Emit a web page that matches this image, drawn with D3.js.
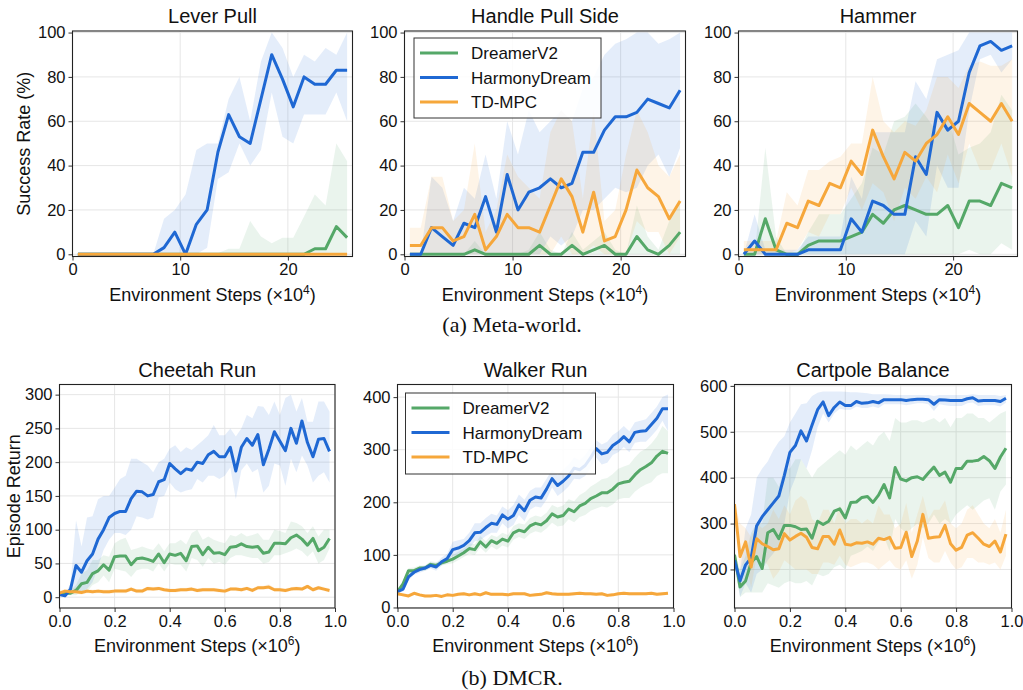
<!DOCTYPE html>
<html>
<head>
<meta charset="utf-8">
<script src="https://cdn.jsdelivr.net/npm/d3@7"></script>
<style>
  body { margin: 0; background: #fff; }
  svg text { fill: #111; }
</style>
</head>
<body>
<svg id="fig" width="1023" height="690" font-family="Liberation Sans, Arial, sans-serif"></svg>
<script>
// ---- data ----
// Meta-world: steps in units of 1e4
const metaSteps = [0.5,1.5,2.5,3.5,4.5,5.5,6.5,7.5,8.5,9.5,10.5,11.5,12.5,13.5,14.5,15.5,16.5,17.5,18.5,19.5,20.5,21.5,22.5,23.5,24.5,25.5];

const leverDreamer   = [0,0,0,0,0,0,0,0,0,0,0,0,0,0,0,0,0,0,0,0,0,0,2.5,2.5,12.5,7.5];
const leverDreamerHi = [0,0,0,0,0,0,0,0,0,0,0,0,0,0.5,2.5,2.5,15,8,5,7.5,7.5,17,27,22,50,42];
const leverDreamerLo = [0,0,0,0,0,0,0,0,0,0,0,0,0,0,0,0,0,0,0,0,0,0,0,0,0,0];
const leverHarmony   = [0,0,0,0,0,0,0,0,3,10,0,13.5,20,46,63,53,50,70,90,79,66.5,80,76.7,76.7,83,83];
const leverHarmonyHi = [0,0,0,0,0,0,0,0,16,20,27,47,50,50,70,80,60,87,100,93,80,90,87,93,90,100];
const leverHarmonyLo = [0,0,0,0,0,0,0,0,0,0,0,0,3,34,37,50,40,47,73,53,50,63,63,63,73,60];
const leverTdmpc     = [0,0,0,0,0,0,0,0,0,0,0,0,0,0,0,0,0,0,0,0,0,0,0,0,0,0];
const leverTdmpcHi   = [0,0,0,0,0,0,0,0,0,0,0,0,0,0,0,0,0,0,0,0,0,0,0,0,0,0];
const leverTdmpcLo   = [0,0,0,0,0,0,0,0,0,0,0,0,0,0,0,0,0,0,0,0,0,0,0,0,0,0];

const handleDreamer   = [0,0,0,0,0,0,2,0,0,0,0,0,4,0,0,4,0,2,4,0,0,8,2,0,4,10];
const handleDreamerHi = [0,0,0,0,0,0,6,0,0,0,0,2,10,2,0,10,2,6,10,2,0,22,8,2,15,25];
const handleDreamerLo = [0,0,0,0,0,0,0,0,0,0,0,0,0,0,0,0,0,0,0,0,0,0,0,0,0,0];
const handleHarmony   = [0,0,12,8,4,14,12,26,10,36,20,28,30,34,30,32,46,46,56,62,62,64,70,68,66,74];
const handleHarmonyHi = [0,0,35,30,15,30,25,45,25,60,45,65,55,60,65,60,75,80,90,95,97,100,100,95,97,100];
const handleHarmonyLo = [0,0,0,0,0,0,0,0,0,0,0,0,0,8,4,8,20,20,25,30,28,30,40,45,35,48];
const handleTdmpc     = [4,4,12,12,6,8,18,2,8,18,12,12,10,22,34,26,10,28,6,8,20,38,30,26,16,24];
const handleTdmpcHi   = [12,12,35,35,15,20,50,10,20,45,35,30,25,55,65,60,25,65,15,20,45,65,55,40,35,45];
const handleTdmpcLo   = [0,0,0,0,0,0,0,0,0,0,0,0,0,0,8,0,0,4,0,0,0,15,10,10,0,8];

const hammerDreamer   = [0,0,16,2,0,0,4,6,6,6,8,10,18,14,20,22,20,18,18,22,12,24,24,22,32,30];
const hammerDreamerHi = [0,0,48,8,0,0,10,18,18,18,25,32,48,45,60,62,68,62,55,62,45,48,50,55,72,65];
const hammerDreamerLo = [0,0,0,0,0,0,0,0,0,0,0,0,0,0,0,0,0,0,0,0,0,2,0,0,5,2];
const hammerHarmony   = [0,6,0,0,0,0,2,2,2,2,16,10,24,22,18,18,44,36,64,56,60,82,94,96,92,94];
const hammerHarmonyHi = [0,18,2,2,2,2,8,8,8,8,35,25,55,55,55,55,78,70,88,90,92,100,100,100,100,100];
const hammerHarmonyLo = [0,0,0,0,0,0,0,0,0,0,0,0,0,0,0,0,15,8,40,30,30,65,88,90,82,88];
const hammerTdmpc     = [2,2,2,2,14,12,24,22,32,30,42,36,56,44,34,46,42,50,54,62,54,68,64,60,68,60];
const hammerTdmpcHi   = [6,6,6,6,28,22,38,38,42,44,50,50,80,60,55,60,58,65,80,80,75,85,87,85,85,88];
const hammerTdmpcLo   = [0,0,0,0,0,2,10,8,18,18,30,20,32,28,15,30,25,35,28,45,32,50,38,38,50,35];

// DMCR: steps in units of 1e6
const dmcSteps = [0,0.02,0.04,0.06,0.08,0.1,0.12,0.14,0.16,0.18,0.2,0.22,0.24,0.26,0.28,0.3,0.32,0.34,0.36,0.38,
  0.4,0.42,0.44,0.46,0.48,0.5,0.52,0.54,0.56,0.58,0.6,0.62,0.64,0.66,0.68,0.7,0.72,0.74,0.76,0.78,
  0.8,0.82,0.84,0.86,0.88,0.9,0.92,0.94,0.96,0.98];

const cheetahDreamer   = [4,6,6,10,20,22,35,39,48,40,60,61,61,48,57,58,56,53,64,51,64,62,65,54,75,76,63,74,65,66,63,74,75,79,75,74,75,65,67,80,80,79,88,92,86,77,87,69,74,87];
const cheetahDreamerHi = [6,8,10,18,35,40,55,55,62,60,80,85,88,70,72,75,72,70,80,68,80,80,85,78,95,100,85,90,85,82,80,92,90,95,90,92,95,85,85,100,98,95,112,110,105,95,105,90,100,100];
const cheetahDreamerLo = [2,4,3,3,8,8,18,22,32,22,42,40,38,30,40,42,42,38,50,38,50,48,48,38,58,55,45,58,50,52,48,58,62,62,60,58,58,50,52,62,62,65,68,72,68,60,68,50,55,72];
const cheetahHarmony   = [4,2,12,47,37,54,64,86,100,118,124,127,127,146,157,156,150,152,171,174,198,190,183,190,188,200,198,211,216,208,208,222,187,222,235,225,241,196,219,245,231,217,250,228,261,229,208,234,235,216];
const cheetahHarmonyHi = [5,5,20,114,75,118,120,145,150,150,162,175,180,205,205,200,195,185,200,205,220,225,215,222,218,225,232,240,255,240,240,250,238,250,270,265,283,282,270,290,270,295,300,275,295,260,260,290,290,275];
const cheetahHarmonyLo = [2,0,5,8,8,12,22,45,70,85,95,95,92,100,120,118,115,118,148,150,170,160,155,158,160,175,170,180,180,175,180,192,145,188,198,185,190,155,165,198,195,165,205,185,210,195,170,180,185,170];
const cheetahTdmpc     = [6,9,8,8,7,9,8,9,8,8,9,9,9,12,9,9,13,12,13,11,10,10,11,11,12,10,11,11,11,10,9,12,12,11,13,10,14,14,15,11,11,10,12,13,12,16,11,14,12,10];
const cheetahTdmpcHi   = [9,12,12,14,10,12,11,12,11,11,12,12,12,15,12,12,16,15,16,14,13,13,14,14,15,13,14,14,14,13,12,15,15,14,16,13,17,17,19,14,14,13,15,16,15,19,14,17,15,13];
const cheetahTdmpcLo   = [3,6,5,5,4,6,5,6,5,5,6,6,6,9,6,6,10,9,10,8,7,7,8,8,9,7,8,8,8,7,6,9,9,8,10,7,11,11,12,8,8,7,9,10,9,13,8,11,9,7];

const walkerDreamer   = [30,45,70,70,75,75,82,80,85,88,92,98,104,112,110,125,115,127,122,130,126,142,147,144,155,160,157,165,178,172,175,187,182,193,198,207,212,218,218,225,235,238,240,252,262,268,275,288,297,293];
const walkerDreamerHi = [32,50,75,76,80,80,88,86,90,94,100,106,112,122,120,136,126,138,134,142,138,155,160,158,170,175,172,180,195,190,194,206,202,214,220,230,236,244,246,254,264,268,272,285,296,302,312,325,345,335];
const walkerDreamerLo = [28,40,65,64,70,70,76,74,80,82,84,90,96,102,100,114,104,116,110,118,114,129,134,130,140,145,142,150,161,154,156,168,162,172,176,184,188,192,190,196,206,208,208,220,228,234,238,250,255,255];
const walkerHarmony   = [30,35,58,67,72,75,80,77,87,93,110,113,118,127,142,143,152,160,158,176,168,175,195,184,204,210,208,225,245,232,240,250,265,262,270,285,302,292,295,308,315,325,315,333,335,336,348,360,378,378];
const walkerHarmonyHi = [32,40,65,72,78,80,86,84,95,102,125,128,130,142,160,160,170,178,175,192,185,195,215,205,222,228,228,245,262,252,262,272,285,280,290,305,318,310,315,328,335,345,335,352,355,358,370,382,400,405];
const walkerHarmonyLo = [28,30,52,62,66,70,74,70,80,85,98,100,106,112,126,128,136,142,142,160,150,157,176,164,186,192,190,205,228,212,220,230,245,244,250,265,285,272,275,290,295,305,295,313,315,315,326,338,355,335];
const walkerTdmpc     = [26,24,22,27,24,22,22,23,21,24,23,25,26,24,26,24,28,25,25,25,24,26,26,26,23,24,25,28,26,25,25,25,26,27,26,26,25,26,23,24,26,27,26,26,26,26,27,25,26,27];
const walkerTdmpcHi   = [29,27,25,30,27,25,25,26,24,27,26,28,29,27,29,27,31,28,28,28,27,29,29,29,26,27,28,31,29,28,28,28,29,30,29,29,28,29,26,27,29,30,29,29,29,29,30,28,29,30];
const walkerTdmpcLo   = [23,21,19,24,21,19,19,20,18,21,20,22,23,21,23,21,25,22,22,22,21,23,23,23,20,21,22,25,23,22,22,22,23,24,23,23,22,23,20,21,23,24,23,23,23,23,24,22,23,24];

const cartDreamer   = [232,162,175,215,228,202,280,287,267,296,296,293,287,288,268,305,298,305,327,332,312,346,347,357,359,346,362,385,356,422,397,393,400,402,396,410,423,405,412,390,420,420,436,436,438,446,437,420,445,464];
const cartDreamerHi = [240,200,230,280,300,300,400,400,380,420,420,440,440,420,400,420,430,440,450,460,450,470,460,470,480,470,490,500,480,530,520,520,525,525,520,525,530,520,530,510,530,530,540,540,530,530,520,530,540,545];
const cartDreamerLo = [210,140,150,150,150,150,170,165,160,170,175,170,170,175,165,190,185,190,205,210,200,230,235,240,250,240,260,270,240,310,290,280,290,300,290,300,320,300,310,300,320,330,340,330,340,350,355,330,370,385];
const cartHarmony   = [220,175,210,225,295,315,330,345,360,405,455,470,502,480,515,548,565,535,553,565,557,557,566,562,563,566,563,570,570,570,570,568,570,571,571,570,560,570,569,568,568,568,572,574,567,568,568,568,566,573];
const cartHarmonyHi = [230,195,290,320,400,420,435,460,478,490,520,540,560,562,578,585,588,588,588,588,587,586,586,585,584,582,582,582,581,580,580,580,580,580,580,580,578,580,580,580,580,580,580,582,580,580,580,580,578,580];
const cartHarmonyLo = [210,140,170,150,190,200,220,235,250,300,370,400,440,420,460,510,540,520,540,550,548,548,555,552,552,555,552,560,560,560,560,558,560,562,562,560,545,560,558,556,556,556,562,564,556,558,558,558,555,563];
const cartTdmpc     = [342,228,260,205,267,256,250,243,245,278,264,272,279,270,248,245,272,272,255,286,255,253,258,257,260,255,268,265,270,246,248,281,228,262,320,268,270,271,296,256,242,248,275,280,268,255,250,262,238,277];
const cartTdmpcHi   = [350,300,290,270,300,290,300,330,310,340,320,350,360,350,310,300,330,330,300,340,300,310,310,300,310,300,340,320,320,290,300,345,280,320,360,310,330,330,350,300,290,300,330,340,320,300,290,310,280,330];
const cartTdmpcLo   = [330,200,220,160,230,220,210,180,195,220,210,200,200,200,190,190,215,215,210,230,210,205,210,215,215,210,200,210,220,205,200,220,180,210,270,225,215,215,240,215,200,205,225,225,215,215,210,215,200,230];

const methods = ["DreamerV2", "HarmonyDream", "TD-MPC"];
const colors = ["#55a868", "#1f68d3", "#f6a73b"];

// ---- layout ----
const svg = d3.select("#fig");
const topRow = {top: 31, h: 225.5};
const botRow = {top: 384.5, h: 223.5};

const panels = [
  {title: "Lever Pull", steps: metaSteps, left: 72.5, w: 280, row: topRow, xDomain: [0, 26], yDomain: [-1, 100.7],
   xTicks: [0, 10, 20], yTicks: [0, 20, 40, 60, 80, 100], xFmt: d3.format("d"), exp: "4", ylabel: "Success Rate (%)",
   series: [[leverDreamer, leverDreamerLo, leverDreamerHi], [leverHarmony, leverHarmonyLo, leverHarmonyHi], [leverTdmpc, leverTdmpcLo, leverTdmpcHi]]},
  {title: "Handle Pull Side", steps: metaSteps, left: 404.5, w: 281, row: topRow, xDomain: [0, 26], yDomain: [-1, 100.7],
   xTicks: [0, 10, 20], yTicks: [0, 20, 40, 60, 80, 100], xFmt: d3.format("d"), exp: "4",
   legend: {x: 414, y: 38, w: 187, h: 80},
   series: [[handleDreamer, handleDreamerLo, handleDreamerHi], [handleHarmony, handleHarmonyLo, handleHarmonyHi], [handleTdmpc, handleTdmpcLo, handleTdmpcHi]]},
  {title: "Hammer", steps: metaSteps, left: 738.5, w: 279, row: topRow, xDomain: [0, 26], yDomain: [-1, 100.7],
   xTicks: [0, 10, 20], yTicks: [0, 20, 40, 60, 80, 100], xFmt: d3.format("d"), exp: "4",
   series: [[hammerDreamer, hammerDreamerLo, hammerDreamerHi], [hammerHarmony, hammerHarmonyLo, hammerHarmonyHi], [hammerTdmpc, hammerTdmpcLo, hammerTdmpcHi]]},
  {title: "Cheetah Run", steps: dmcSteps, left: 59.5, w: 275.5, row: botRow, xDomain: [0, 1], yDomain: [-16, 315],
   xTicks: [0, 0.2, 0.4, 0.6, 0.8, 1.0], yTicks: [0, 50, 100, 150, 200, 250, 300], xFmt: d3.format(".1f"), exp: "6", ylabel: "Episode Return",
   series: [[cheetahDreamer, cheetahDreamerLo, cheetahDreamerHi], [cheetahHarmony, cheetahHarmonyLo, cheetahHarmonyHi], [cheetahTdmpc, cheetahTdmpcLo, cheetahTdmpcHi]]},
  {title: "Walker Run", steps: dmcSteps, left: 397.5, w: 276, row: botRow, xDomain: [0, 1], yDomain: [-1, 424],
   xTicks: [0, 0.2, 0.4, 0.6, 0.8, 1.0], yTicks: [0, 100, 200, 300, 400], xFmt: d3.format(".1f"), exp: "6",
   legend: {x: 405.5, y: 393, w: 190, h: 81},
   series: [[walkerDreamer, walkerDreamerLo, walkerDreamerHi], [walkerHarmony, walkerHarmonyLo, walkerHarmonyHi], [walkerTdmpc, walkerTdmpcLo, walkerTdmpcHi]]},
  {title: "Cartpole Balance", steps: dmcSteps, left: 734.5, w: 277, row: botRow, xDomain: [0, 1], yDomain: [116, 603],
   xTicks: [0, 0.2, 0.4, 0.6, 0.8, 1.0], yTicks: [200, 300, 400, 500, 600], xFmt: d3.format(".1f"), exp: "6",
   series: [[cartDreamer, cartDreamerLo, cartDreamerHi], [cartHarmony, cartHarmonyLo, cartHarmonyHi], [cartTdmpc, cartTdmpcLo, cartTdmpcHi]]}
];

panels.forEach((p, pi) => {
  const top = p.row.top, h = p.row.h;
  const x = d3.scaleLinear(p.xDomain, [p.left, p.left + p.w]);
  const y = d3.scaleLinear(p.yDomain, [top + h, top]);
  const g = svg.append("g");

  const clipId = "clip" + pi;
  g.append("clipPath").attr("id", clipId)
    .append("rect").attr("x", p.left).attr("y", top).attr("width", p.w).attr("height", h);

  // grid
  g.append("g").selectAll("line").data(p.xTicks).join("line")
    .attr("x1", d => x(d)).attr("x2", d => x(d)).attr("y1", top).attr("y2", top + h)
    .attr("stroke", "#e6e6e6").attr("stroke-width", 1);
  g.append("g").selectAll("line").data(p.yTicks).join("line")
    .attr("x1", p.left).attr("x2", p.left + p.w).attr("y1", d => y(d)).attr("y2", d => y(d))
    .attr("stroke", "#e6e6e6").attr("stroke-width", 1);

  const plot = g.append("g").attr("clip-path", `url(#${clipId})`);
  const idx = d3.range(p.steps.length);

  // shaded bands
  p.series.forEach((s, si) => {
    const area = d3.area().x(i => x(p.steps[i])).y0(i => y(s[1][i])).y1(i => y(s[2][i]));
    plot.append("path").datum(idx).attr("d", area)
      .attr("fill", colors[si]).attr("fill-opacity", 0.12);
  });
  // mean lines
  p.series.forEach((s, si) => {
    const line = d3.line().x(i => x(p.steps[i])).y(i => y(s[0][i]));
    plot.append("path").datum(idx).attr("d", line)
      .attr("fill", "none").attr("stroke", colors[si]).attr("stroke-width", 3)
      .attr("stroke-linejoin", "round");
  });

  // axes
  const xAxis = d3.axisBottom(x).tickValues(p.xTicks).tickFormat(p.xFmt).tickSize(4).tickPadding(3).tickSizeOuter(0);
  const yAxis = d3.axisLeft(y).tickValues(p.yTicks).tickFormat(d3.format("d")).tickSize(4).tickPadding(3).tickSizeOuter(0);
  const gx = g.append("g").attr("transform", `translate(0,${top + h})`).call(xAxis);
  const gy = g.append("g").attr("transform", `translate(${p.left},0)`).call(yAxis);
  [gx, gy].forEach(a => {
    a.attr("font-family", null).attr("font-size", null);
    a.select(".domain").remove();
    a.selectAll(".tick line").attr("stroke", "#333");
    a.selectAll(".tick text").attr("font-size", 16.5).attr("fill", "#111");
  });

  // frame
  g.append("rect").attr("x", p.left).attr("y", top).attr("width", p.w).attr("height", h)
    .attr("fill", "none").attr("stroke", "#222").attr("stroke-width", 1.1);

  // title
  g.append("text").attr("x", p.left + p.w / 2).attr("y", top - 8)
    .attr("text-anchor", "middle").attr("font-size", 20).text(p.title);

  // x label with exponent
  const xl = g.append("text").attr("x", p.left + p.w / 2).attr("y", top + h + 44)
    .attr("text-anchor", "middle").attr("font-size", 18);
  xl.append("tspan").text("Environment Steps (\u00d710");
  xl.append("tspan").attr("font-size", 12).attr("dy", -7).text(p.exp);
  xl.append("tspan").attr("dy", 7).text(")");

  if (p.ylabel) {
    const lx = pi === 0 ? 30 : 19.5;
    g.append("text").attr("transform", `translate(${lx},${top + h / 2}) rotate(-90)`)
      .attr("text-anchor", "middle").attr("font-size", 18).text(p.ylabel);
  }

  if (p.legend) {
    const L = p.legend;
    const lg = g.append("g");
    lg.append("rect").attr("x", L.x).attr("y", L.y).attr("width", L.w).attr("height", L.h)
      .attr("fill", "#fff").attr("fill-opacity", 0.85).attr("stroke", "#333").attr("stroke-width", 1);
    methods.forEach((m, i) => {
      const cy = L.y + 15 + i * 24.5;
      lg.append("line").attr("x1", L.x + 6).attr("x2", L.x + 44).attr("y1", cy).attr("y2", cy)
        .attr("stroke", colors[i]).attr("stroke-width", 3);
      lg.append("text").attr("x", L.x + 57).attr("y", cy + 6).attr("font-size", 17).text(m);
    });
  }
});

// captions
svg.append("text").attr("x", 512).attr("y", 332).attr("text-anchor", "middle")
  .style("font-family", "'Liberation Serif', 'Times New Roman', serif").attr("font-size", 22).text("(a) Meta-world.");
svg.append("text").attr("x", 512).attr("y", 685).attr("text-anchor", "middle")
  .style("font-family", "'Liberation Serif', 'Times New Roman', serif").attr("font-size", 22).text("(b) DMCR.");
</script>
</body>
</html>
